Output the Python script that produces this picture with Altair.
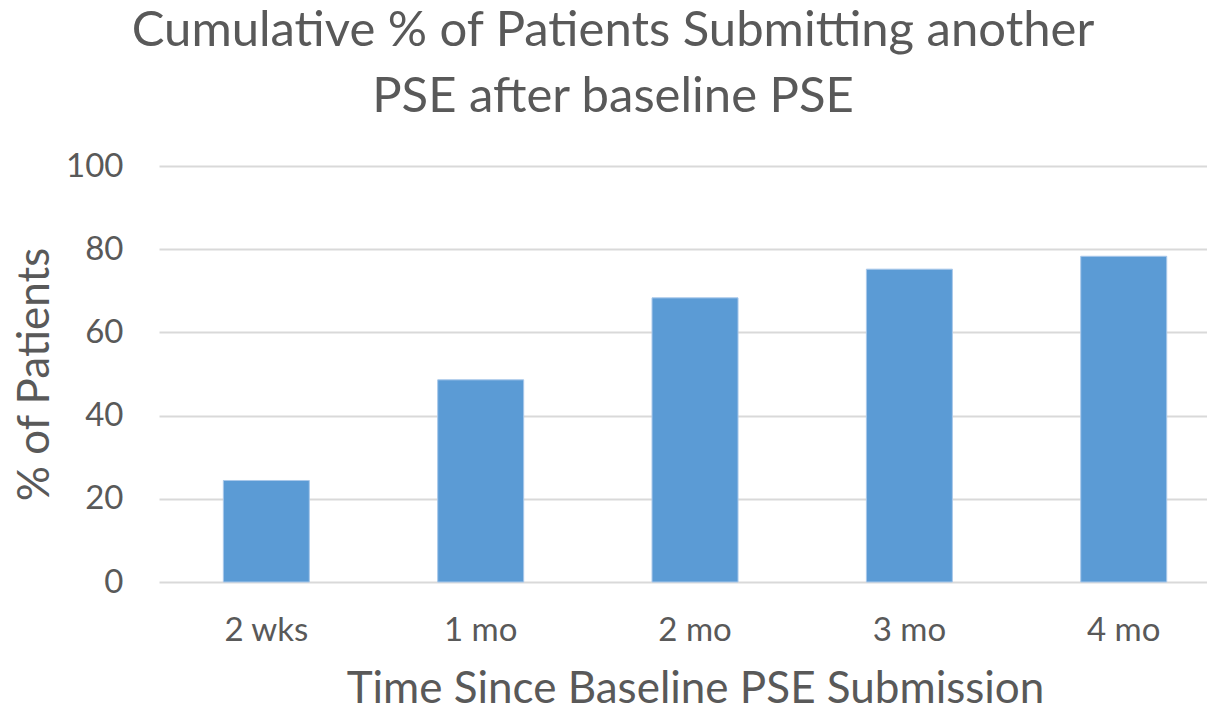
import altair as alt
import pandas as pd

categories = ["2 wks", "1 mo", "2 mo", "3 mo", "4 mo"]
values = [24.4, 48.6, 68.3, 75.2, 78.3]

df = pd.DataFrame({"period": categories, "pct": values})

FONT = "Lato"
GREY = "#595959"

chart = (
    alt.Chart(df)
    .mark_bar(color="#5B9BD5", stroke="#A9C8EA", strokeWidth=1)
    .encode(
        x=alt.X(
            "period:N",
            sort=categories,
            scale=alt.Scale(paddingInner=0.5988, paddingOuter=0.244, align=0.615),
            axis=alt.Axis(
                title="Time Since Baseline PSE Submission",
                labelAngle=0,
                labelFontSize=33,
                labelColor=GREY,
                labelFont=FONT,
                labelPadding=32,
                ticks=False,
                tickSize=0,
                domain=False,
                grid=False,
                titleFontSize=44,
                titleFont=FONT,
                titleColor=GREY,
                titleFontWeight="normal",
                titleX=536,
                titleY=120,
                titleBaseline="alphabetic",
                titleAlign="center",
            ),
        ),
        y=alt.Y(
            "pct:Q",
            scale=alt.Scale(domain=[0, 100], nice=False),
            axis=alt.Axis(
                title="% of Patients",
                values=[0, 20, 40, 60, 80, 100],
                labelFontSize=33,
                labelColor=GREY,
                labelFont=FONT,
                labelPadding=36,
                labelBaseline="middle",
                ticks=False,
                tickSize=0,
                domain=False,
                grid=True,
                gridColor="#D9D9D9",
                gridWidth=2,
                titleFontSize=44,
                titleFont=FONT,
                titleColor=GREY,
                titleFontWeight="normal",
                titleAngle=-90,
                titleX=-124,
                titleY=208,
                titleBaseline="middle",
                titleAlign="center",
            ),
        ),
    )
    .properties(
        width=1048,
        height=416,
        padding={"left": 151, "top": 158, "right": 0, "bottom": 126},
        autosize=alt.AutoSizeParams(type="none"),
        title=alt.TitleParams(
            text=["Cumulative % of Patients Submitting another", "PSE after baseline PSE"],
            fontSize=49,
            font=FONT,
            color=GREY,
            fontWeight="normal",
            anchor="middle",
            dx=-70,
            lineHeight=66,
            offset=28,
        ),
    )
    .configure_view(stroke=None)
)

chart.save("out.html", embed_options={"renderer": "svg", "actions": False})
